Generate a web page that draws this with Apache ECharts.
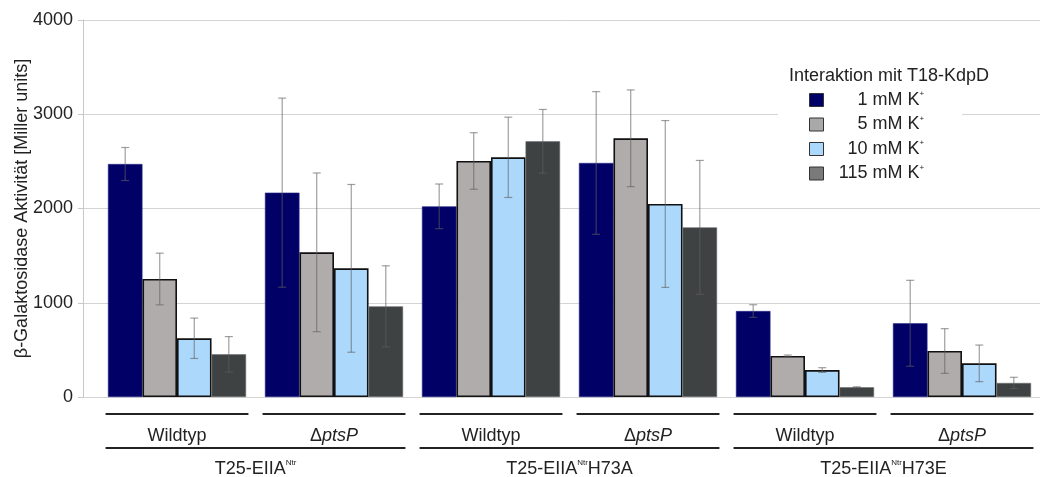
<!DOCTYPE html>
<html>
<head>
<meta charset="utf-8">
<script src="https://cdn.jsdelivr.net/npm/echarts@6/dist/echarts.min.js"></script>
<style>html,body{margin:0;padding:0;background:#fff}#c{width:1048px;height:477px}</style>
</head>
<body>
<div id="c"></div>
<script>
// ---- data ----
const categories = ['Wildtyp', 'ΔptsP', 'Wildtyp', 'ΔptsP', 'Wildtyp', 'ΔptsP'];
const constructs = ['T25-EIIA|Ntr|', 'T25-EIIA|Ntr|H73A', 'T25-EIIA|Ntr|H73E'];
const seriesNames = ['1 mM K+', '5 mM K+', '10 mM K+', '115 mM K+'];
const v1 = [2472, 2168, 2023, 2483, 912, 782];
const v5 = [1252, 1535, 2504, 2745, 435, 488];
const v10 = [623, 1365, 2543, 2048, 286, 357];
const v115 = [453, 962, 2713, 1800, 103, 149];
const e1 = [175, 1003, 237, 757, 67, 456];
const e5 = [274, 842, 300, 513, 10, 237];
const e10 = [214, 890, 426, 885, 25, 194];
const e115 = [188, 430, 338, 710, 5, 60];
const yTicks = [0, 1000, 2000, 3000, 4000];

const values = [v1, v5, v10, v115];
const errors = [e1, e5, e10, e115];
const barColors = ['#000066', '#b0acac', '#acd8fc', '#3e4242'];
const barBorders = [['#2a2a8a', 0.6], ['#111111', 1.6], ['#111111', 1.6], ['#6a6e6e', 0.6]];
const legendColors = ['#000066', '#a9a9a9', '#acd8fc', '#7a7a7a'];
const FONT = 'Liberation Sans, Arial, sans-serif';
const BW = 0.22; // fraction of category width per bar

// measure legend label widths so they can be right-aligned
const mctx = document.createElement('canvas').getContext('2d');
mctx.font = '18px "Liberation Sans", Arial, sans-serif';
const legendRich = { s: { fontSize: 8, color: '#222', verticalAlign: 'top', lineHeight: 20, fontFamily: FONT } };
seriesNames.forEach((n, i) => {
  const w = mctx.measureText(n.slice(0, -1)).width;
  legendRich['p' + i] = { width: Math.max(0, 91 - w), lineHeight: 20, fontSize: 18 };
  legendRich['t' + i] = { fontSize: 18, color: '#222', lineHeight: 20, fontFamily: FONT };
});

const chart = echarts.init(document.getElementById('c'));

const series = [];
values.forEach((vals, i) => {
  series.push({
    name: seriesNames[i], type: 'bar', xAxisIndex: 1, yAxisIndex: 1,
    data: vals, barWidth: (BW * 100) + '%', barGap: '0%',
    itemStyle: { color: barColors[i], borderColor: barBorders[i][0], borderWidth: barBorders[i][1] },
    emphasis: { disabled: true }, z: 2
  });
});
values.forEach((vals, i) => {
  series.push({
    type: 'custom', xAxisIndex: 1, yAxisIndex: 1, silent: true, z: 5,
    data: vals.map((v, k) => [k, v, errors[i][k]]),
    renderItem: function (params, api) {
      const c = api.value(0), v = api.value(1), e = api.value(2);
      const cw = api.size([1, 0])[0];
      const off = cw * BW * (i - 1.5);
      const p = api.coord([c, v]);
      const x = p[0] + off;
      const yt = api.coord([c, v + e])[1];
      const yb = api.coord([c, Math.max(0, v - e)])[1];
      const st = { stroke: 'rgba(95,95,95,0.6)', lineWidth: 1.2 };
      return { type: 'group', children: [
        { type: 'line', shape: { x1: x, y1: yt, x2: x, y2: yb }, style: st },
        { type: 'line', shape: { x1: x - 4, y1: yt, x2: x + 4, y2: yt }, style: st },
        { type: 'line', shape: { x1: x - 4, y1: yb, x2: x + 4, y2: yb }, style: st }
      ]};
    }
  });
});
// category bracket lines under the axis
series.push({
  type: 'custom', xAxisIndex: 1, yAxisIndex: 1, silent: true, clip: false, z: 3,
  data: categories.map((c, k) => [k, 0]),
  renderItem: function (params, api) {
    const k = api.value(0);
    const cw = api.size([1, 0])[0];
    const p = api.coord([k, 0]);
    const st = { stroke: '#222', lineWidth: 2 };
    const half = cw * 0.455;
    const ch = [{ type: 'line', shape: { x1: p[0] - half, y1: p[1] + 17, x2: p[0] + half, y2: p[1] + 17 }, style: st }];
    if (k % 2 === 0) {
      ch.push({ type: 'line', shape: { x1: p[0] - half, y1: p[1] + 51, x2: p[0] + cw + half, y2: p[1] + 51 }, style: st });
    }
    return { type: 'group', children: ch };
  }
});

chart.setOption({
  animation: false,
  textStyle: { fontFamily: FONT },
  title: {
    text: 'Interaktion mit T18-KdpD', left: 789, top: 67, padding: 0,
    textStyle: { fontSize: 18, fontWeight: 'normal', color: '#222', fontFamily: FONT }
  },
  legend: {
    orient: 'vertical', left: 778, top: 86, padding: [4, 38, 4, 31],
    backgroundColor: '#fff', itemWidth: 14, itemHeight: 13, itemGap: 4.5,
    selectedMode: false, icon: 'rect',
    data: seriesNames.map((n, i) => ({ name: n, icon: 'rect', itemStyle: { color: legendColors[i], borderColor: '#333', borderWidth: 1 } })),
    formatter: function (n) { const i = seriesNames.indexOf(n); return '{p' + i + '|}{t' + i + '|' + n.slice(0, -1) + '}{s|+}'; },
    textStyle: { fontSize: 18, color: '#222', lineHeight: 20, rich: legendRich }
  },
  grid: [
    { left: 83, right: 8, top: 20, bottom: 80, outerBoundsMode: 'none', containLabel: false },
    { left: 98.5, right: 7.5, top: 20, bottom: 80, outerBoundsMode: 'none', containLabel: false }
  ],
  xAxis: [
    { type: 'category', gridIndex: 0, data: categories, show: false },
    {
      type: 'category', gridIndex: 1, data: categories,
      axisLine: { show: false }, axisTick: { show: false },
      axisLabel: {
        margin: 30, fontSize: 18, color: '#222', interval: 0,
        formatter: function (v) { return v.charAt(0) === 'Δ' ? '{n|Δ}{i|' + v.slice(1) + '}' : '{n|' + v + '}'; },
        rich: { n: { fontSize: 18, color: '#222', fontFamily: FONT }, i: { fontSize: 18, color: '#222', fontStyle: 'italic', fontFamily: FONT } }
      }
    },
    {
      type: 'category', gridIndex: 1, data: constructs, position: 'bottom',
      axisLine: { show: false }, axisTick: { show: false },
      axisLabel: {
        margin: 62, interval: 0,
        formatter: function (v) { const p = v.split('|'); return '{n|' + p[0] + '}{s|' + p[1] + '}{n|' + p[2] + '}'; },
        rich: { n: { fontSize: 18, color: '#222', fontFamily: FONT, lineHeight: 20 }, s: { fontSize: 8, color: '#222', verticalAlign: 'top', fontFamily: FONT, lineHeight: 20 } }
      }
    }
  ],
  yAxis: [
    {
      type: 'value', gridIndex: 0, min: 0, max: 4000, interval: 1000,
      name: 'β-Galaktosidase Aktivität [Miller units]', nameLocation: 'middle', nameGap: 52, nameRotate: 90,
      nameMoveOverlap: false,
      nameTextStyle: { fontSize: 18, color: '#222', fontFamily: FONT },
      axisLine: { show: true, lineStyle: { color: '#c8c8c8' } },
      axisTick: { show: true, length: 5, lineStyle: { color: '#c8c8c8' } },
      axisLabel: { fontSize: 18, color: '#222', margin: 10, formatter: function (v) { return yTicks.indexOf(v) >= 0 ? String(v) : ''; } },
      splitLine: { show: true, lineStyle: { color: '#d4d4d4' } }
    },
    { type: 'value', gridIndex: 1, min: 0, max: 4000, interval: 1000, show: false, splitLine: { show: false } }
  ],
  series: series
});
</script>
</body>
</html>
